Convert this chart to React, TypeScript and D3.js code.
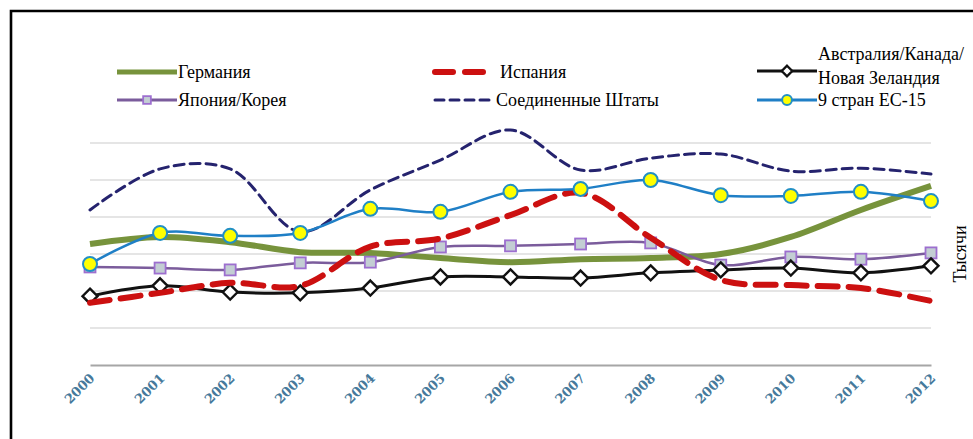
// Employment by region, 2000–2012 (thousands): six smoothed series over a
// faint grid, legend above in three columns, rotated year labels below.
import { useEffect, useRef } from "react";
import * as d3 from "d3";

const YEARS = ["2000", "2001", "2002", "2003", "2004", "2005", "2006", "2007", "2008", "2009", "2010", "2011", "2012"];
const GRID = [1, 2, 3, 4, 5, 6];

const GERMANY = [3.27, 3.46, 3.32, 3.05, 3.03, 2.89, 2.78, 2.86, 2.89, 3.0, 3.46, 4.19, 4.84];
const JAPAN_KOREA = [2.65, 2.62, 2.57, 2.76, 2.78, 3.19, 3.22, 3.27, 3.3, 2.7, 2.92, 2.86, 3.03];
const SPAIN = [1.68, 1.95, 2.22, 2.14, 3.2, 3.42, 4.05, 4.65, 3.44, 2.3, 2.16, 2.08, 1.73];
const USA = [4.19, 5.3, 5.3, 3.6, 4.73, 5.54, 6.35, 5.27, 5.59, 5.7, 5.24, 5.32, 5.16];
const AUS_CAN_NZ = [1.86, 2.14, 1.97, 1.95, 2.08, 2.38, 2.38, 2.35, 2.49, 2.57, 2.62, 2.49, 2.68];
const EU15 = [2.73, 3.57, 3.49, 3.57, 4.22, 4.14, 4.68, 4.76, 5.0, 4.59, 4.57, 4.68, 4.43];

type Marker = "none" | "square" | "diamond" | "circle";
interface Series {
  name: string[];
  values: number[];
  color: string;
  width: number;
  dash?: string;
  marker: Marker;
}

// draw order (bottom → top)
const SERIES: Series[] = [
  { name: ["Германия"], values: GERMANY, color: "#77933c", width: 6, marker: "none" },
  { name: ["Япония/Корея"], values: JAPAN_KOREA, color: "#7b5c9c", width: 2.5, marker: "square" },
  { name: ["Австралия/Канада/", "Новая Зеландия"], values: AUS_CAN_NZ, color: "#111", width: 3, marker: "diamond" },
  { name: ["Испания"], values: SPAIN, color: "#cc1010", width: 6, dash: "20 11", marker: "none" },
  { name: ["Соединенные Штаты"], values: USA, color: "#25236e", width: 3, dash: "10 6", marker: "none" },
  { name: ["9 стран ЕС-15"], values: EU15, color: "#1f7fc6", width: 2.5, marker: "circle" },
];

// legend slots: series index, line x0, y
const LEGEND_SLOTS: [number, number, number][] = [
  [0, 117, 72],
  [1, 117, 100],
  [3, 435, 72],
  [4, 435, 100],
  [2, 757, 71],
  [5, 757, 100],
];

const serif = "Liberation Serif";

function drawMarker(g: d3.Selection<SVGGElement, unknown, null, undefined>, kind: Marker, x: number, y: number, s = 1) {
  if (kind === "square") {
    const h = 5.5 * s;
    g.append("rect")
      .attr("x", x - h).attr("y", y - h)
      .attr("width", h * 2).attr("height", h * 2)
      .attr("fill", "#c3ced3").attr("stroke", "#9d6fcf").attr("stroke-width", 1.8);
  } else if (kind === "diamond") {
    const h = 7.5 * s;
    g.append("path")
      .attr("d", `M${x},${y - h}L${x + h},${y}L${x},${y + h}L${x - h},${y}Z`)
      .attr("fill", "#fff").attr("stroke", "#111").attr("stroke-width", 2.4);
  } else if (kind === "circle") {
    g.append("circle")
      .attr("cx", x).attr("cy", y).attr("r", 7 * s)
      .attr("fill", "#ffff00").attr("stroke", "#2290c4").attr("stroke-width", 2);
  }
}

export default function App() {
  const ref = useRef<SVGSVGElement>(null);

  useEffect(() => {
    const svgEl = ref.current;
    if (!svgEl) return;
    const svg = d3.select(svgEl);
    svg.selectAll("*").remove();

    const x = d3.scalePoint<string>().domain(YEARS).range([90, 931]);
    const y = d3.scaleLinear().domain([0, 6]).range([365, 143]);

    // frame (open on the right and bottom, as cropped)
    svg.append("path")
      .attr("d", "M11,439V11H973")
      .attr("fill", "none").attr("stroke", "#000").attr("stroke-width", 2.6);

    // gridlines
    svg.append("g")
      .selectAll("line")
      .data(GRID)
      .join("line")
      .attr("x1", 90).attr("x2", 931)
      .attr("y1", (d) => y(d)).attr("y2", (d) => y(d))
      .attr("stroke", "#dcdcdc").attr("stroke-width", 1.5);

    // x axis line + rotated year labels
    const gx = svg.append("g").attr("transform", `translate(0,${y(0)})`)
      .call(d3.axisBottom(x).tickSize(0).tickPadding(0));
    gx.select(".domain").attr("stroke", "#a6a6a6").attr("stroke-width", 2);
    gx.selectAll<SVGTextElement, string>("text")
      .attr("fill", "#46799b")
      .attr("font-family", "DejaVu Serif")
      .attr("font-weight", "bold")
      .attr("font-size", "13px")
      .attr("text-anchor", "end")
      .attr("dy", null)
      .attr("y", 0)
      .attr("transform", "translate(5,14) rotate(-45)");

    // axis title
    svg.append("text")
      .attr("transform", "translate(966,254) rotate(-90)")
      .attr("text-anchor", "middle")
      .attr("font-family", serif).attr("font-size", "18px").attr("fill", "#000")
      .text("Тысячи");

    const line = d3.line<number>()
      .x((_d, i) => x(YEARS[i])!)
      .y((d) => y(d))
      .curve(d3.curveCatmullRom.alpha(0.5));

    const plot = svg.append("g");
    for (const s of SERIES) {
      plot.append("path")
        .attr("d", line(s.values))
        .attr("fill", "none")
        .attr("stroke", s.color)
        .attr("stroke-width", s.width)
        .attr("stroke-linecap", s.dash ? "round" : "butt")
        .attr("stroke-dasharray", s.dash ?? null);
      if (s.marker !== "none") {
        const mg = plot.append("g");
        s.values.forEach((v, i) => drawMarker(mg, s.marker, x(YEARS[i])!, y(v)));
      }
    }

    // legend
    const lg = svg.append("g");
    for (const [idx, x0, ly] of LEGEND_SLOTS) {
      const s = SERIES[idx];
      const len = idx === 3 ? 52 : 60;
      lg.append("line")
        .attr("x1", x0).attr("x2", x0 + len)
        .attr("y1", ly).attr("y2", ly)
        .attr("stroke", s.color)
        .attr("stroke-width", idx === 3 ? 6 : idx === 0 ? 5 : 3)
        .attr("stroke-linecap", s.dash ? "round" : "butt")
        .attr("stroke-dasharray", idx === 3 ? "18 12" : idx === 4 ? "9 6" : null);
      const mg = lg.append("g");
      drawMarker(mg, s.marker, x0 + len / 2, ly, 0.7);
      const tx = x0 + len + (idx === 3 ? 13 : 1);
      const t = lg.append("text")
        .attr("font-family", serif).attr("font-size", "18px").attr("fill", "#000");
      if (s.name.length === 1) {
        t.append("tspan").attr("x", tx).attr("y", ly + 6).text(s.name[0]);
      } else {
        t.append("tspan").attr("x", tx).attr("y", ly - 11).text(s.name[0]);
        t.append("tspan").attr("x", tx).attr("y", ly + 13).text(s.name[1]);
      }
    }
  }, []);

  return (
    <>
      <style>{`body { margin: 0; }`}</style>
      <svg ref={ref} width={973} height={439} style={{ display: "block", background: "#fff" }} />
    </>
  );
}
